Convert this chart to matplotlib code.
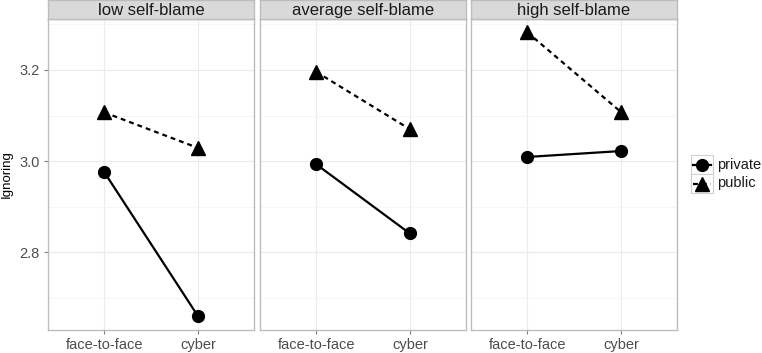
import matplotlib
matplotlib.use("Agg")
import matplotlib.pyplot as plt
from matplotlib.lines import Line2D
from matplotlib.patches import Rectangle

panels = ["low self-blame", "average self-blame", "high self-blame"]
categories = ["face-to-face", "cyber"]
private_vals = [[2.976, 2.660], [2.993, 2.841], [3.009, 3.022]]
public_vals = [[3.107, 3.029], [3.196, 3.070], [3.283, 3.108]]
yticks = [2.8, 3.0, 3.2]
ylabel = "Ignoring"
legend_labels = ["private", "public"]

plt.rcParams['font.family'] = ['Liberation Sans', 'DejaVu Sans']

W, H = 762, 353
fig = plt.figure(figsize=(W / 100, H / 100), dpi=100)

lefts = [48, 260, 471]
pw = 206
ptop, pbot = 19, 330
grey_border = "#bdbdbd"
grid_col = "#ebebeb"
dash = (0, (2.2, 1.8))

for i, name in enumerate(panels):
    ax = fig.add_axes([lefts[i] / W, (H - pbot) / H, pw / W, (pbot - ptop) / H])
    x = [1, 2]
    ax.plot(x, private_vals[i], color="black", lw=1.6, ls="-", marker="o", ms=8.5, zorder=3)
    ax.plot(x, public_vals[i], color="black", lw=1.6, ls=dash, marker="^", ms=10.5, zorder=3)
    ax.set_xlim(0.4, 2.6)
    ax.set_ylim(2.629, 3.312)
    ax.set_xticks(x)
    ax.set_xticklabels(categories, fontsize=10.5, color="#4d4d4d")
    ax.set_yticks(yticks)
    ax.set_yticks([2.7, 2.9, 3.1, 3.3], minor=True)
    ax.tick_params(axis="both", which="major", length=3, color="#7f7f7f", pad=3)
    ax.tick_params(axis="y", which="minor", length=0)
    if i == 0:
        ax.set_yticklabels([f"{v:.1f}" for v in yticks], fontsize=10.5, color="#4d4d4d")
        ax.set_ylabel(ylabel, fontsize=9.5, labelpad=5)
    else:
        ax.set_yticklabels([])
        ax.tick_params(axis="y", which="major", length=0)
    ax.grid(True, which="major", color=grid_col, lw=0.8)
    ax.grid(True, which="minor", axis="y", color="#f5f5f5", lw=0.6)
    ax.set_axisbelow(True)
    for s in ax.spines.values():
        s.set_color(grey_border)
        s.set_linewidth(1.0)
    # strip
    sax = fig.add_axes([lefts[i] / W, (H - ptop) / H, pw / W, ptop / H])
    sax.set_facecolor("#d9d9d9")
    sax.set_xticks([])
    sax.set_yticks([])
    for s in sax.spines.values():
        s.set_color(grey_border)
        s.set_linewidth(1.0)
    sax.text(0.5, 0.45, name, ha="center", va="center", fontsize=12, color="#1a1a1a",
             transform=sax.transAxes)

# legend drawn manually in pixel layout
lax = fig.add_axes([0, 0, 1, 1], facecolor="none")
lax.set_xlim(0, W)
lax.set_ylim(H, 0)
lax.axis("off")
key_x0, key_w = 691, 22
key_tops = [155, 174]
key_h = 19
styles = [("o", "-", 8.5), ("^", dash, 10.5)]
for (mk, ls, ms), top, lab in zip(styles, key_tops, legend_labels):
    lax.add_patch(Rectangle((key_x0, top), key_w, key_h, facecolor="white",
                            edgecolor="#d0d0d0", lw=0.8))
    cy = top + key_h / 2
    lax.plot([key_x0 + 2, key_x0 + key_w - 2], [cy, cy], color="black", lw=1.6, ls=ls)
    lax.plot([key_x0 + key_w / 2], [cy], color="black", marker=mk, ms=ms)
    lax.text(717, cy, lab, ha="left", va="center", fontsize=10.5, color="#1a1a1a")

fig.savefig("out.png", dpi=100, facecolor="white")
